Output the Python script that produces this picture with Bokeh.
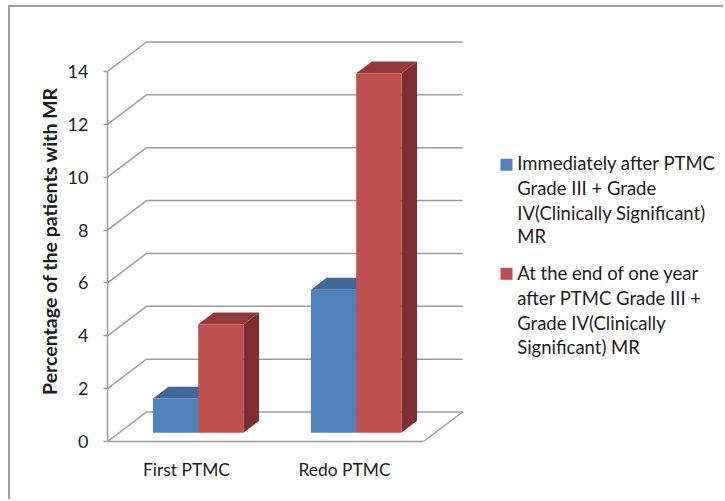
from bokeh.plotting import figure
from bokeh.models import Range1d, FixedTicker
from bokeh.core.properties import value
from bokeh.embed import file_html
from bokeh.resources import INLINE

categories = ["First PTMC", "Redo PTMC"]
immediately = [1.29, 5.41]
one_year = [4.1, 13.6]
y_ticks = [0, 2, 4, 6, 8, 10, 12, 14]
y_title = "Percentage of the patients with MR"
legend_1 = ["Immediately after PTMC", "Grade III + Grade", "IV(Clinically Significant)", "MR"]
legend_2 = ["At the end of one year", "after PTMC Grade III +", "Grade IV(Clinically", "Significant) MR"]

BLUE, BLUE_TOP = "#4F81BD", "#3F6797"
RED, RED_TOP, RED_SIDE = "#C0504D", "#953A38", "#7C2F2E"
GRID = "#9C9C9C"
BORDER = "#A0A0A0"
TEXT = "#1c1c1c"
FONT = "Lato"

OFF_X, OFF_Y = 10, 7   # chart border thickness + margin
W, H = 725 - OFF_X, 501 - OFF_Y
F_L, F_T, F_B = 107 - OFF_X, 40 - OFF_Y, 441 - OFF_Y
PX_CAT = 158.0
PX_UNIT = (441 - 71) / 14
DEPTH_X = 39 / PX_CAT
DEPTH_Y = 29.5 / PX_UNIT

def dx(px):
    return (px - 107) / PX_CAT

def dy(py):
    return (441 - py) / PX_UNIT

p = figure(width=W, height=H, output_backend="svg", toolbar_location=None,
           x_range=Range1d(0, (W - F_L) / PX_CAT), y_range=Range1d(0, (F_B - F_T) / PX_UNIT),
           min_border_left=F_L, min_border_right=0, min_border_top=F_T, min_border_bottom=H - F_B,
           outline_line_color=None, background_fill_color="white", border_fill_color="white")
p.grid.visible = False
p.styles = {"margin-left": "8px", "margin-top": "5px",
            "border-left": f"2px solid {BORDER}", "border-top": f"2px solid {BORDER}"}

n = len(categories)
xs = [[0, DEPTH_X, n + DEPTH_X] for _ in y_ticks]
ys = [[v, v + DEPTH_Y, v + DEPTH_Y] for v in y_ticks]
xs.append([n, n + DEPTH_X])
ys.append([0, DEPTH_Y])
p.multi_line(xs, ys, line_color=GRID, line_width=1.5)

z0, z1 = 0.30, 0.70
bw = 45.25 / PX_CAT
ddx, ddy = (z1 - z0) * DEPTH_X, (z1 - z0) * DEPTH_Y
b = z0 * DEPTH_Y
for series, face, top, side, off in ((immediately, BLUE, BLUE_TOP, BLUE_TOP, -1),
                                     (one_year, RED, RED_TOP, RED_SIDE, 0)):
    lefts = [i + 0.5 + off * bw + z0 * DEPTH_X for i in range(n)]
    rights = [l + bw for l in lefts]
    tops = [b + v for v in series]
    p.patches([[r, r + ddx, r + ddx, r] for r in rights],
              [[b, b + ddy, t + ddy, t] for t in tops], fill_color=side, line_color=None)
    p.patches([[l, l + ddx, r + ddx, r] for l, r in zip(lefts, rights)],
              [[t, t + ddy, t + ddy, t] for t in tops], fill_color=top, line_color=None)
    p.quad(left=lefts, right=rights, bottom=b, top=tops, fill_color=face, line_color=None)

ya = p.yaxis[0]
ya.ticker = FixedTicker(ticks=y_ticks)
ya.bounds = (0, 14)
ya.axis_line_color = GRID
ya.axis_line_width = 1.5
ya.major_tick_line_color = GRID
ya.major_tick_line_width = 1.5
ya.major_tick_out = 4
ya.major_tick_in = 0
ya.minor_tick_line_color = None
ya.major_label_standoff = 15
ya.major_label_text_font = FONT
ya.major_label_text_font_size = "18px"
ya.major_label_text_color = TEXT
ya.axis_label = y_title
ya.axis_label_text_font = FONT
ya.axis_label_text_font_size = "19.5px"
ya.axis_label_text_font_style = "bold"
ya.axis_label_text_color = TEXT
ya.axis_label_standoff = 4

xa = p.xaxis[0]
xa.ticker = FixedTicker(ticks=[i + 0.5 for i in range(n)])
xa.major_label_overrides = {i + 0.5: c for i, c in enumerate(categories)}
xa.bounds = (0, n)
xa.axis_line_color = GRID
xa.axis_line_width = 1.5
xa.major_tick_line_color = None
xa.minor_tick_line_color = None
xa.major_label_standoff = 11
xa.major_label_text_font = FONT
xa.major_label_text_font_size = "17.4px"
xa.major_label_text_color = TEXT

for lines, rows, col, swatch in ((legend_1, [162, 187, 212, 235.5], BLUE, 158.3),
                                 (legend_2, [272.5, 297.5, 322.5, 346.5], RED, 267.3)):
    p.quad(left=dx(500), right=dx(512), top=dy(swatch), bottom=dy(swatch + 12), fill_color=col, line_color=None)
    p.text(x=[dx(516.7)] * len(lines), y=[dy(r) for r in rows], text=lines,
           text_font=value(FONT), text_font_size="18.5px", text_color=TEXT,
           text_baseline="middle", text_align="left")

open("out.html", "w").write(file_html(p, INLINE))
